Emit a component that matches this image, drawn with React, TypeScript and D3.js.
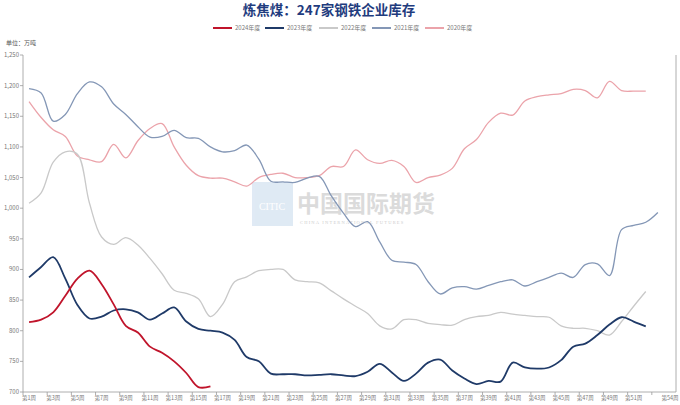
import React from "react";
import * as d3 from "d3";

const weeks: string[] = Array.from({ length: 54 }, (_, i) => `第${i + 1}周`);
const shownLabels: string[] = [
  "第1周","第3周","第5周","第7周","第9周","第11周","第13周","第15周","第17周","第19周",
  "第21周","第23周","第25周","第27周","第29周","第31周","第33周","第35周","第37周","第39周",
  "第41周","第43周","第45周","第47周","第49周","第51周","第54周",
];
const yTicks: number[] = [700, 750, 800, 850, 900, 950, 1000, 1050, 1100, 1150, 1200, 1250];

const s2024: number[] = [814, 818, 830, 857, 885, 898, 876, 843, 808, 797, 774, 764, 750, 731, 708, 709];
const s2023: number[] = [
  887, 904, 920, 885, 842, 820, 823, 833, 835, 830, 818, 828, 838, 815, 803, 800, 797, 785, 757, 750,
  730, 729, 729, 727, 728, 729, 727, 726, 733, 746, 732, 718, 730, 748, 753, 735, 722, 713, 718, 717,
  748, 740, 738, 740, 752, 774, 779, 793, 810, 822, 815, 807,
];
const s2022: number[] = [
  1008, 1025, 1075, 1092, 1088, 1008, 953, 941, 952, 940, 918, 893, 866, 861, 852, 823, 843, 880, 888, 898,
  900, 900, 883, 880, 878, 865, 852, 840, 828, 808, 803, 818, 818, 812, 810, 809, 818, 823, 825, 830,
  827, 825, 823, 822, 808, 804, 804, 800, 793, 815, 840, 864,
];
const s2021: number[] = [
  1195, 1188, 1142, 1153, 1187, 1206, 1198, 1170, 1153, 1133, 1116, 1117, 1127, 1115, 1114, 1100, 1092, 1094, 1103, 1080,
  1044, 1043, 1042, 1049, 1052, 1020, 992, 970, 978, 945, 915, 912, 908, 880, 860, 870, 872, 868, 874, 880,
  883, 873, 880, 887, 894, 887, 908, 909, 890, 965, 972, 977, 993,
];
const s2020: number[] = [
  1174, 1148, 1128, 1117, 1085, 1079, 1076, 1104, 1082, 1110, 1130, 1138, 1100, 1070, 1053, 1049, 1049, 1043, 1036, 1050,
  1055, 1057, 1050, 1050, 1053, 1068, 1068, 1095, 1079, 1073, 1078, 1068, 1042, 1050, 1054, 1065, 1097, 1112, 1140, 1155,
  1152, 1175, 1182, 1185, 1187, 1194, 1192, 1180, 1207, 1192, 1191, 1191,
];

const seriesNames: string[] = ["2024年度", "2023年度", "2022年度", "2021年度", "2020年度"];
const seriesColors: string[] = ["#C0142B", "#1F3A68", "#C9C9C9", "#8497B6", "#EBA3AA"];
const seriesWidths: number[] = [1.8, 1.8, 1.3, 1.3, 1.3];
const seriesData: number[][] = [s2024, s2023, s2022, s2021, s2020];

export default function App() {
  const W = 680, H = 405;
  const left = 23, right = 676, top = 55, bottom = 392;
  const x = d3.scaleBand<string>().domain(weeks).range([left, right]).padding(0);
  const bw = x.bandwidth();
  const y = d3.scaleLinear().domain([700, 1250]).range([bottom, top]);
  const fmt = d3.format(",");
  const line = d3
    .line<number>()
    .x((_, i) => (x(weeks[i]) as number) + bw / 2)
    .y((d) => y(d))
    .curve(d3.curveCatmullRom.alpha(0.5));

  const boundaryTicks: number[] = [];
  for (let k = 0; k <= 52; k += 2) boundaryTicks.push(left + k * bw);

  const legendX = [213, 265, 319, 372, 425];
  const font = "'Noto Sans CJK SC', 'Noto Sans', sans-serif";

  return (
    <svg width={W} height={H} style={{ position: "absolute", left: 0, top: 0, background: "#fff" }} fontFamily={font}>
      <rect x={0} y={0} width={W} height={H} fill="#fff" />
      <text x={329} y={15} textAnchor="middle" fontSize={13.5} fontWeight="bold" fill="#1F3C7E">
        炼焦煤：247家钢铁企业库存
      </text>
      {seriesNames.map((n, i) => (
        <g key={n}>
          <line x1={legendX[i]} x2={legendX[i] + 19} y1={28} y2={28} stroke={seriesColors[i]} strokeWidth={2} />
          <text x={legendX[i] + 22} y={30} fontSize={6} fill="#777">{n}</text>
        </g>
      ))}
      <text x={6} y={45} fontSize={6} fill="#555">单位：万吨</text>

      {/* watermark */}
      <g opacity={0.75}>
        <rect x={252} y={182} width={41} height={44} fill="#D5E3F1" />
        <text x={272} y={210} textAnchor="middle" fontSize={10} fill="#ffffff" fontFamily="'Liberation Serif', serif">CITIC</text>
        <text x={297} y={212} fontSize={23} fontWeight="bold" fill="#D0D0D0">中国国际期货</text>
        <text x={300} y={224} fontSize={4.5} fill="#BBBBBB" fontFamily="'Liberation Serif', serif" letterSpacing={1.2}>CHINA INTERNATIONAL FUTURES</text>
      </g>

      {/* axes */}
      <line x1={left} x2={left} y1={top} y2={bottom} stroke="#9A9A9A" strokeWidth={0.8} />
      <line x1={right} x2={right} y1={top} y2={bottom} stroke="#9A9A9A" strokeWidth={0.8} />
      <line x1={left} x2={right} y1={bottom} y2={bottom} stroke="#9A9A9A" strokeWidth={0.8} />
      {yTicks.map((t) => (
        <g key={t}>
          <line x1={left - 3} x2={left} y1={y(t)} y2={y(t)} stroke="#9A9A9A" strokeWidth={0.8} />
          <text x={left - 4} y={y(t) + 2} textAnchor="end" fontSize={6} fill="#777">{fmt(t)}</text>
        </g>
      ))}
      {boundaryTicks.map((t, i) => (
        <line key={i} x1={t} x2={t} y1={bottom} y2={bottom + 3} stroke="#9A9A9A" strokeWidth={0.8} />
      ))}
      {shownLabels.map((l) => (
        <text key={l} x={(x(l) as number) + bw / 2} y={400} textAnchor="middle" fontSize={5.5} fill="#777">{l}</text>
      ))}

      {/* series, drawn oldest first */}
      {[4, 3, 2, 1, 0].map((i) => (
        <path key={i} d={line(seriesData[i]) || ""} fill="none" stroke={seriesColors[i]} strokeWidth={seriesWidths[i]} />
      ))}
    </svg>
  );
}
